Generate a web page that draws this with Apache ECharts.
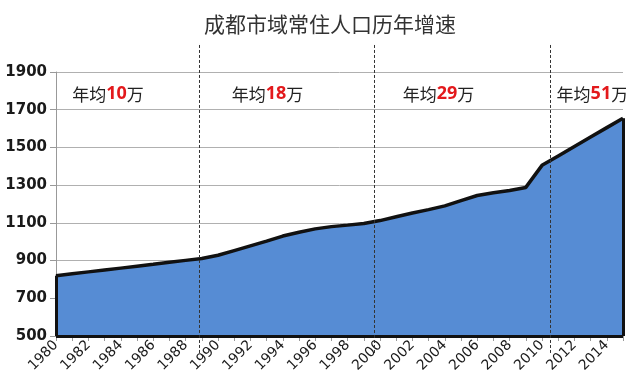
<!DOCTYPE html>
<html>
<head>
<meta charset="utf-8">
<script src="https://cdn.jsdelivr.net/npm/echarts@6/dist/echarts.min.js"></script>
<style>html,body{margin:0;padding:0;background:#fff;}#c{width:626px;height:391px;}</style>
</head>
<body>
<div id="c"></div>
<script>
var titleText = '成都市域常住人口历年增速';
var years = [1980,1981,1982,1983,1984,1985,1986,1987,1988,1989,1990,1991,1992,1993,1994,1995,1996,1997,1998,1999,2000,2001,2002,2003,2004,2005,2006,2007,2008,2009,2010,2011,2012,2013,2014,2015];
var population = [820,830,840,850,860,870,880,891,901,911,928,953,978,1003,1030,1050,1068,1080,1088,1097,1112,1132,1152,1170,1190,1218,1245,1260,1272,1288,1405,1455,1505,1555,1605,1655];
var yTicks = {min: 500, max: 1900, step: 200};
var dividerYears = [1988.8, 1999.65, 2010.5];
var dividerRange = [410, 2050];
var notes = [
  {x: 1981.0, y: 1782, rate: '10'},
  {x: 1990.85, y: 1782, rate: '18'},
  {x: 2001.4, y: 1782, rate: '29'},
  {x: 2010.9, y: 1782, rate: '51'}
];

var chart = echarts.init(document.getElementById('c'));
var seriesData = years.map(function (y, i) { return [y, population[i]]; });
var first = years[0], last = years[years.length - 1];

var markLines = [];
var edgeStyle = {type: 'solid', width: 3, color: '#111'};
markLines.push([{coord: [first, yTicks.min], lineStyle: edgeStyle}, {coord: [first, population[0]]}]);
markLines.push([{coord: [last, yTicks.min], lineStyle: edgeStyle}, {coord: [last, population[population.length - 1]]}]);
markLines.push([{coord: [first, yTicks.min], lineStyle: edgeStyle}, {coord: [last, yTicks.min]}]);

var option = {
  animation: false,
  backgroundColor: '#fff',
  title: {
    text: titleText,
    left: 199, top: 9,
    textStyle: {fontFamily: 'Noto Sans CJK SC', fontSize: 21, fontWeight: 'normal', color: '#333'}
  },
  grid: {left: 56, right: 3, top: 72, bottom: 55},
  xAxis: {
    type: 'value', min: first, max: last, interval: 1,
    axisLine: {show: true, lineStyle: {color: '#999', width: 1}},
    axisTick: {show: true, length: 5, lineStyle: {color: '#999'}},
    splitLine: {show: false},
    axisLabel: {
      rotate: 45, margin: 7, fontFamily: 'DejaVu Sans', fontSize: 14, color: '#1a1a1a',
      formatter: function (v) { return (v % 2 === 0 && v < last) ? String(v) : ''; }
    }
  },
  yAxis: {
    type: 'value', min: yTicks.min, max: yTicks.max, interval: yTicks.step,
    axisLine: {show: true, lineStyle: {color: '#999', width: 1}},
    axisTick: {show: true, length: 6, lineStyle: {color: '#999'}},
    splitLine: {show: true, lineStyle: {color: '#b0b0b0', width: 1}},
    axisLabel: {margin: 9, fontFamily: 'DejaVu Sans', fontSize: 15, fontWeight: 'bold', color: '#1a1a1a',
      formatter: function (v) { return String(v); }}
  },
  series: [{
    type: 'line',
    data: seriesData,
    symbol: 'none',
    clip: false,
    lineStyle: {color: '#111', width: 3.5},
    areaStyle: {color: '#568cd4', opacity: 1, origin: 'start'},
    z: 3,
    markLine: {
      silent: true, symbol: 'none', label: {show: false}, animation: false,
      data: markLines
    },
    markPoint: {
      silent: true, symbolSize: 0, animation: false,
      data: notes.map(function (n) {
        return {
          coord: [n.x, n.y],
          label: {
            show: true, position: 'inside', align: 'left', verticalAlign: 'middle',
            formatter: '{a|年均}{b|' + n.rate + '}{a|万}',
            rich: {
              a: {fontFamily: 'Noto Sans CJK SC', fontSize: 17, color: '#222'},
              b: {fontFamily: 'Noto Sans', fontSize: 18, fontWeight: 'bold', color: '#e3191c'}
            }
          }
        };
      })
    }
  }]
};
chart.setOption(option);

var dividers = dividerYears.map(function (x) {
  var p0 = chart.convertToPixel({gridIndex: 0}, [x, dividerRange[0]]);
  var p1 = chart.convertToPixel({gridIndex: 0}, [x, dividerRange[1]]);
  return {
    type: 'line', z: 10, silent: true,
    shape: {x1: Math.round(p0[0]) + 0.5, y1: p0[1], x2: Math.round(p1[0]) + 0.5, y2: p1[1]},
    style: {stroke: '#333', lineWidth: 1, lineDash: [3, 2]}
  };
});
chart.setOption({graphic: dividers});
</script>
</body>
</html>
